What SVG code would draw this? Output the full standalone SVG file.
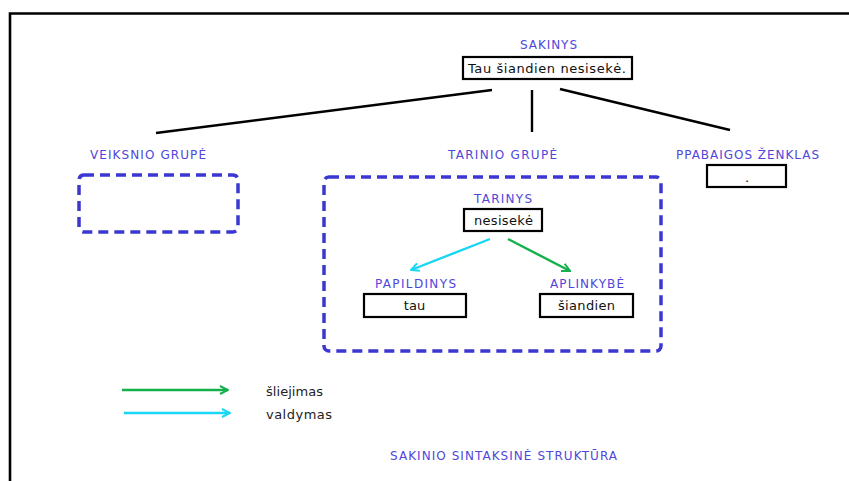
<svg xmlns="http://www.w3.org/2000/svg" width="849" height="481" viewBox="0 0 849 481">
  <style>
    .lbl { font-family: "DejaVu Sans", Verdana, sans-serif; font-size: 12px; fill: #5046dc; text-anchor: middle; }
    .val { font-family: "DejaVu Sans", Verdana, sans-serif; font-size: 13px; fill: #111; text-anchor: middle; }
    .leg { font-family: "DejaVu Sans", Verdana, sans-serif; font-size: 13px; fill: #222; }
    .box { fill: #fff; stroke: #000; stroke-width: 2.2; }
    .grp { fill: none; stroke: #3a37d2; stroke-width: 3.5; stroke-dasharray: 10 6; }
    .edge { stroke: #000; stroke-width: 2.4; fill: none; }
    .green { stroke: #13b04c; stroke-width: 2.4; fill: none; }
    .cyan { stroke: #19d7f2; stroke-width: 2.4; fill: none; }
  </style>
  <defs>
    <marker id="arrGreen" viewBox="0 0 10 10" refX="9" refY="5" markerWidth="10" markerHeight="10" orient="auto" markerUnits="userSpaceOnUse">
      <path d="M1,1 L9,5 L1,9" fill="none" stroke="#13b04c" stroke-width="2"/>
    </marker>
    <marker id="arrCyan" viewBox="0 0 10 10" refX="9" refY="5" markerWidth="10" markerHeight="10" orient="auto" markerUnits="userSpaceOnUse">
      <path d="M1,1 L9,5 L1,9" fill="none" stroke="#19d7f2" stroke-width="2"/>
    </marker>
  </defs>

  <rect width="849" height="481" fill="#fff"/>

  <!-- frame -->
  <path d="M10,481 L10,13.5 L849,13.5" fill="none" stroke="#000" stroke-width="2.6"/>

  <!-- connectors -->
  <g id="connectors">
    <line class="edge" x1="492" y1="90" x2="156" y2="133"/>
    <line class="edge" x1="532" y1="90" x2="532" y2="132"/>
    <line class="edge" x1="560" y1="89" x2="730" y2="130"/>
    <line class="cyan" x1="490" y1="239" x2="411" y2="270" marker-end="url(#arrCyan)"/>
    <line class="green" x1="508" y1="239" x2="570" y2="271" marker-end="url(#arrGreen)"/>
  </g>

  <g id="sakinys">
    <text class="lbl" x="548.5" y="49" textLength="57" lengthAdjust="spacing">SAKINYS</text>
    <rect class="box" x="463" y="57" width="169" height="22"/>
    <text class="val" x="547" y="73" textLength="158" lengthAdjust="spacing">Tau šiandien nesisekė.</text>
  </g>

  <g id="veiksnio-grupe">
    <text class="lbl" x="148" y="159" textLength="116" lengthAdjust="spacing">VEIKSNIO GRUPĖ</text>
    <rect class="grp" x="79" y="175" width="159" height="57" rx="5"/>
  </g>

  <g id="tarinio-grupe">
    <text class="lbl" x="502.5" y="159" textLength="109" lengthAdjust="spacing">TARINIO GRUPĖ</text>
    <rect class="grp" x="324" y="177" width="337" height="174" rx="5"/>
  </g>

  <g id="tarinys">
    <text class="lbl" x="503" y="203" textLength="58" lengthAdjust="spacing">TARINYS</text>
    <rect class="box" x="464" y="209" width="78" height="22"/>
    <text class="val" x="503.5" y="225" textLength="59" lengthAdjust="spacing">nesisekė</text>
  </g>

  <g id="papildinys">
    <text class="lbl" x="415.5" y="288" textLength="81" lengthAdjust="spacing">PAPILDINYS</text>
    <rect class="box" x="364" y="294" width="102" height="23"/>
    <text class="val" x="414.5" y="310">tau</text>
  </g>

  <g id="aplinkybe">
    <text class="lbl" x="587" y="288" textLength="74" lengthAdjust="spacing">APLINKYBĖ</text>
    <rect class="box" x="540" y="294" width="93" height="23"/>
    <text class="val" x="586.5" y="310" textLength="57" lengthAdjust="spacing">šiandien</text>
  </g>

  <g id="pabaigos-zenklas">
    <text class="lbl" x="747.5" y="159" textLength="143" lengthAdjust="spacing">PPABAIGOS ŽENKLAS</text>
    <rect class="box" x="707" y="165" width="79" height="22"/>
    <text class="val" x="747" y="182">.</text>
  </g>

  <!-- legend -->
  <g id="legend">
    <line class="green" x1="122" y1="390" x2="228" y2="390" marker-end="url(#arrGreen)"/>
    <line class="cyan" x1="124" y1="413" x2="230" y2="413" marker-end="url(#arrCyan)"/>
    <text class="leg" x="266" y="396" textLength="57" lengthAdjust="spacing">šliejimas</text>
    <text class="leg" x="266" y="419" textLength="66" lengthAdjust="spacing">valdymas</text>
  </g>

  <text class="lbl" x="503.5" y="460" textLength="227" lengthAdjust="spacing">SAKINIO SINTAKSINĖ STRUKTŪRA</text>
</svg>
